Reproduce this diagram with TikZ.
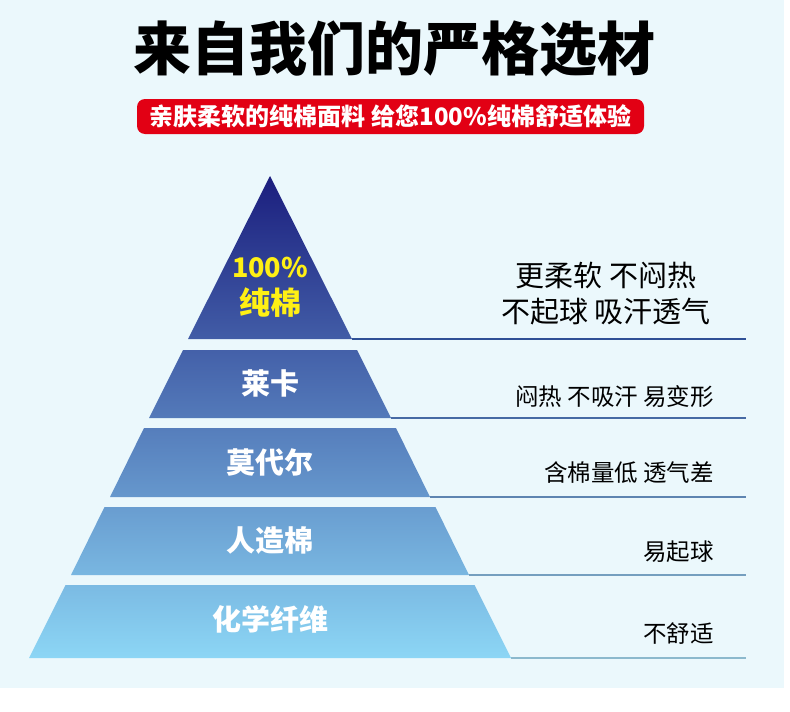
\documentclass[tikz,border=0pt]{standalone}
\usepackage{fontspec}
\newfontfamily\cjk{Noto Sans CJK SC}
\definecolor{fond}{RGB}{235,248,252}
\definecolor{bandeau}{RGB}{226,0,20}
\definecolor{pyrhaut}{RGB}{27,30,126}
\definecolor{pyrbas}{RGB}{140,214,245}
\definecolor{traithaut}{RGB}{47,80,150}
\definecolor{traitbas}{RGB}{140,185,205}
\definecolor{jaune}{RGB}{255,240,20}
\tikzset{
  etiq/.style={font=\cjk\bfseries\fontsize{29}{34}\selectfont, text=white, inner sep=0pt},
  defaut/.style={font=\cjk\fontsize{23.5}{28}\selectfont, anchor=east, inner sep=0pt},
  trait/.style={line width=1.2pt}
}
\begin{document}
\begin{tikzpicture}[x=1pt,y=-1pt]
\useasboundingbox (0,0) rectangle (790,712);
% Fond
\fill[white] (0,0) rectangle (790,712);
\fill[fond] (0,0) rectangle (784,688);

% Titre et bandeau
\node[font=\cjk\bfseries\fontsize{58}{60}\selectfont, inner sep=0pt] (titre) at (394,49) {来自我们的严格选材};
\node[fill=bandeau, rounded corners=8pt, minimum width=507pt, minimum height=35pt, inner sep=0pt,
      text=white, font=\cjk\bfseries\fontsize{24}{26}\selectfont] (bandeau) at (390.5,116.5)
      {亲肤柔软的纯棉面料 给您100\%纯棉舒适体验};

% Etage 1 : sommet
\coordinate (s1) at (270,176);
\coordinate (g1) at (188,339);
\coordinate (d1) at (352,339);
\shade[top color=pyrhaut, bottom color=pyrbas!34!pyrhaut] (s1) -- (d1) -- (g1) -- cycle;
\node[etiq, text=jaune, align=center, font=\cjk\bfseries\fontsize{31}{37}\selectfont] (coton) at (270,287)
  {{\fontsize{27}{37}\selectfont 100\%}\\纯棉};

% Etage 2
\coordinate (hg2) at (183,350); \coordinate (hd2) at (357,350);
\coordinate (g2) at (149,418);  \coordinate (d2) at (391,418);
\shade[top color=pyrbas!36!pyrhaut, bottom color=pyrbas!50!pyrhaut] (hg2) -- (hd2) -- (d2) -- (g2) -- cycle;
\node[etiq] (lycra) at (270,383) {莱卡};

% Etage 3
\coordinate (hg3) at (144,428); \coordinate (hd3) at (396,428);
\coordinate (g3) at (110,497);  \coordinate (d3) at (430,497);
\shade[top color=pyrbas!52!pyrhaut, bottom color=pyrbas!66!pyrhaut] (hg3) -- (hd3) -- (d3) -- (g3) -- cycle;
\node[etiq] (modal) at (270,462) {莫代尔};

% Etage 4
\coordinate (hg4) at (104.5,507); \coordinate (hd4) at (435.5,507);
\coordinate (g4) at (71,575);     \coordinate (d4) at (469,575);
\shade[top color=pyrbas!69!pyrhaut, bottom color=pyrbas!83!pyrhaut] (hg4) -- (hd4) -- (d4) -- (g4) -- cycle;
\node[etiq] (rayonne) at (270,541) {人造棉};

% Etage 5 : base
\coordinate (hg5) at (65.5,585); \coordinate (hd5) at (474.5,585);
\coordinate (g5) at (29,658);    \coordinate (d5) at (511,658);
\shade[top color=pyrbas!85!pyrhaut, bottom color=pyrbas] (hg5) -- (hd5) -- (d5) -- (g5) -- cycle;
\node[etiq] (synth) at (270,619) {化学纤维};

% Traits vers la droite
\coordinate (f1) at (746,339);
\coordinate (f2) at (746,418);
\coordinate (f3) at (746,497);
\coordinate (f4) at (746,575);
\coordinate (f5) at (746,658);
\draw[trait, traithaut] (d1) -- (f1);
\draw[trait, traitbas!25!traithaut] (d2) -- (f2);
\draw[trait, traitbas!50!traithaut] (d3) -- (f3);
\draw[trait, traitbas!75!traithaut] (d4) -- (f4);
\draw[trait, traitbas] (d5) -- (f5);

% Descriptions
\node[font=\cjk\fontsize{29}{36}\selectfont, align=center, inner sep=0pt] (avantages) at (606,294) {更柔软 不闷热\\不起球 吸汗透气};
\node[defaut] (desc2) at (714,397) {闷热 不吸汗 易变形};
\node[defaut] (desc3) at (714,473) {含棉量低 透气差};
\node[defaut] (desc4) at (714,552) {易起球};
\node[defaut] (desc5) at (714,634) {不舒适};
\end{tikzpicture}
\end{document}
